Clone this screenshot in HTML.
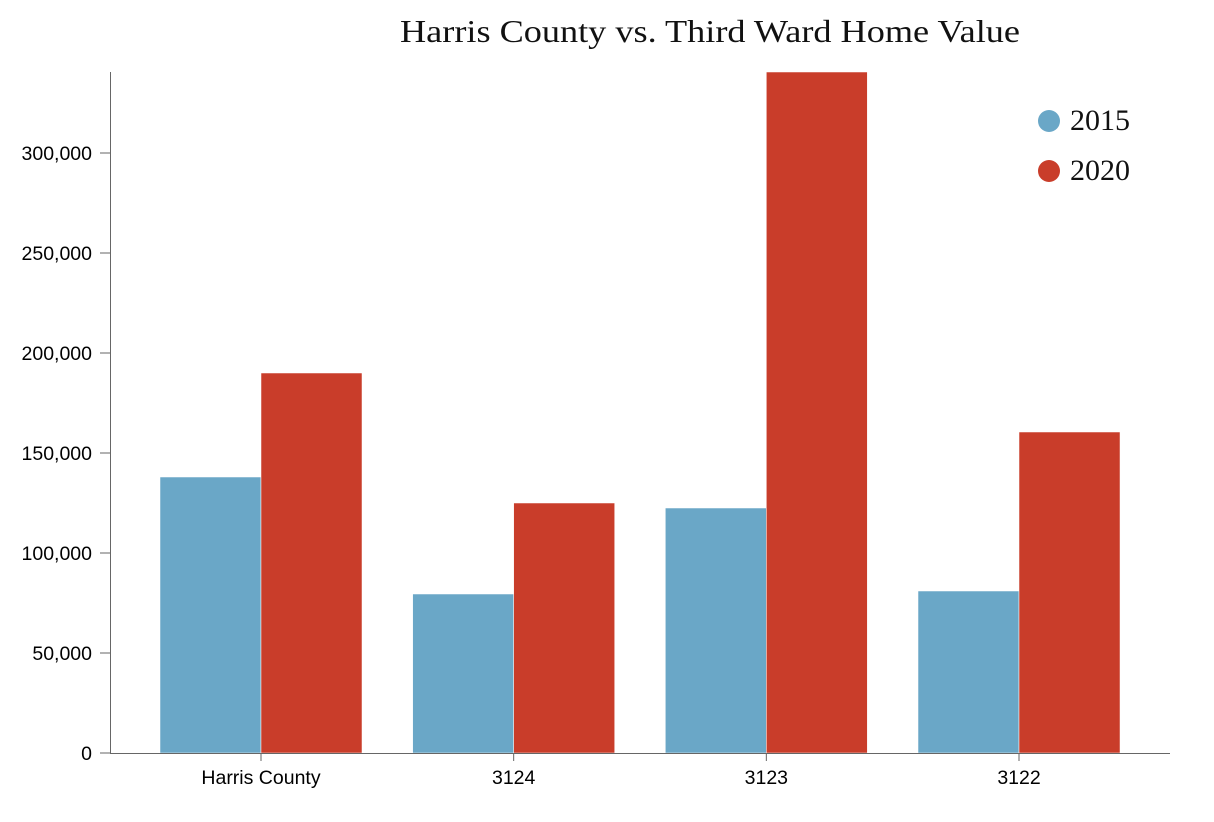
<!DOCTYPE html>
<html><head><meta charset="utf-8"><style>body{margin:0;background:#fff}svg{display:block}</style></head>
<body>
<svg id="chart" width="1214" height="822">
<text x="710" y="42" text-anchor="middle" textLength="620" lengthAdjust="spacingAndGlyphs" font-family="Liberation Serif, serif" font-size="32" fill="#111">Harris County vs. Third Ward Home Value</text>
<g id="bars"></g><g id="axes"></g>
<g>
<circle cx="1049" cy="121" r="11" fill="#6aa7c7"/>
<text x="1070" y="130" font-family="Liberation Serif, serif" font-size="30" fill="#111">2015</text>
<circle cx="1049" cy="171" r="11" fill="#c93d2a"/>
<text x="1070" y="180" font-family="Liberation Serif, serif" font-size="30" fill="#111">2020</text>
</g>
</svg>
<script>
const categories = ["Harris County","3124","3123","3122"];
const values2015 = [138000,79500,122500,81000];
const values2020 = [190000,125000,340500,160500];
const yTicks = [0,50000,100000,150000,200000,250000,300000];
const yMax = 340500;
const NS="http://www.w3.org/2000/svg";
const y0=753, yTop=72, xL=110, xR=1170;
const y = v => y0 - (v/yMax)*(y0-yTop);
const step=252.67, firstCenter=261, bw=101;
const xc = i => firstCenter + i*step;
function mk(tag, attrs, parent){const e=document.createElementNS(NS,tag);for(const k in attrs)e.setAttribute(k,attrs[k]);parent.appendChild(e);return e;}
const bars=document.getElementById('bars'), axes=document.getElementById('axes');
categories.forEach((c,i)=>{
  const v1=Math.min(values2015[i],yMax), v2=Math.min(values2020[i],yMax);
  const r1=mk('rect',{x:xc(i)-bw,y:y(v1),width:bw,height:y0-y(v1),fill:'#6aa7c7',stroke:'#fff','stroke-width':0.5},bars);
  
  
  const r2=mk('rect',{x:xc(i),y:y(v2),width:bw,height:y0-y(v2),fill:'#c93d2a',stroke:'#fff','stroke-width':0.5},bars);
  
  
  mk('line',{x1:xc(i),x2:xc(i),y1:y0,y2:y0+8,stroke:'#666'},axes);
  const t=mk('text',{x:xc(i),y:y0+31,'text-anchor':'middle','font-family':'Liberation Sans, sans-serif','font-size':19.5,fill:'#000'},axes);
  t.textContent=c;
  
  
});
mk('line',{x1:xL,x2:xR,y1:y0+0.5,y2:y0+0.5,stroke:'#666'},axes);
mk('line',{x1:xL+0.5,x2:xL+0.5,y1:yTop,y2:y0,stroke:'#666'},axes);
yTicks.forEach(v=>{
  mk('line',{x1:xL-10,x2:xL,y1:y(v),y2:y(v),stroke:'#666'},axes);
  const t=mk('text',{x:xL-18,y:y(v)+7,'text-anchor':'end','font-family':'Liberation Sans, sans-serif','font-size':19.5,fill:'#000'},axes);
  t.textContent=v.toLocaleString('en-US');
  
  
});
</script>
</body></html>
